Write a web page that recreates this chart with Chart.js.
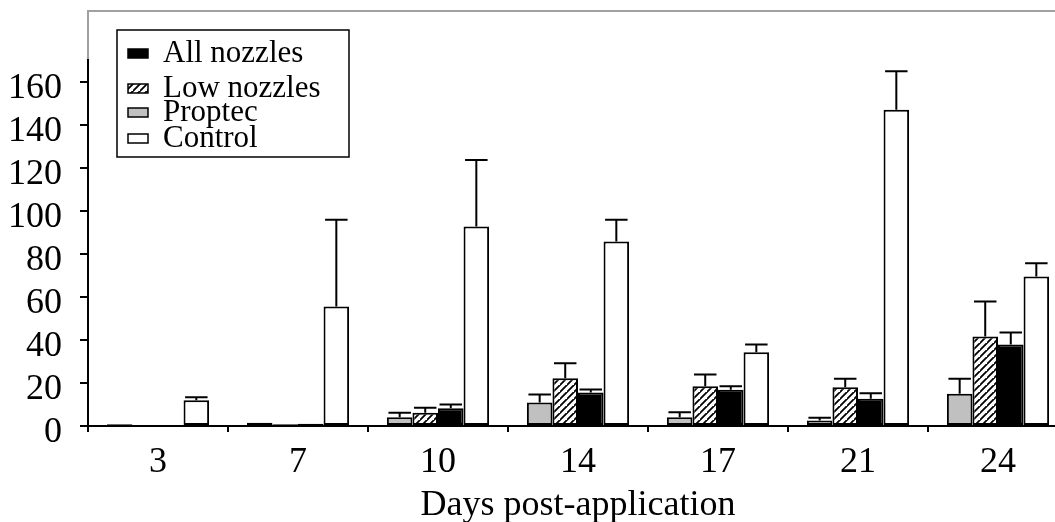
<!DOCTYPE html>
<html>
<head>
<meta charset="utf-8">
<script src="https://cdn.jsdelivr.net/npm/chart.js@4.4.1/dist/chart.umd.min.js"></script>
<style>
  html, body { margin: 0; padding: 0; background: #fff; overflow: hidden; }
  #wrap { width: 1080px; height: 522px; position: relative; }
</style>
</head>
<body>
<div id="wrap"><canvas id="c"></canvas></div>
<script>
// ---- data ----
const days = ['3', '7', '10', '14', '17', '21', '24'];
const proptec    = [0.8, 1.5, 4.1, 10.9, 4.1, 2.6, 15.0];
const proptecErr = [0, 0, 2.0, 3.7, 2.3, 1.2, 6.9];
const lowNozzles    = [0, 0.8, 6.1, 22.2, 18.5, 18.0, 41.6];
const lowNozzlesErr = [0, 0, 2.4, 7.0, 5.4, 3.9, 16.2];
const allNozzles    = [0, 1.0, 8.3, 15.6, 16.8, 12.6, 37.9];
const allNozzlesErr = [0, 0, 1.7, 1.4, 1.7, 2.6, 5.5];
const control    = [12.0, 55.5, 92.7, 85.7, 34.3, 146.9, 69.4];
const controlErr = [1.4, 40.3, 30.9, 10.1, 3.6, 17.9, 6.2];
const yTicks = [0, 20, 40, 60, 80, 100, 120, 140, 160];
const legendOrder = ['All nozzles', 'Low nozzles', 'Proptec', 'Control'];
const xTitle = 'Days post-application';

const FONT = '"Liberation Serif", "Times New Roman", serif';

// hatch pattern
function makeHatch() {
  const s = 7;
  const p = document.createElement('canvas');
  p.width = s; p.height = s;
  const g = p.getContext('2d');
  g.fillStyle = '#fff'; g.fillRect(0, 0, s, s);
  g.strokeStyle = '#000'; g.lineWidth = 1.8;
  g.beginPath();
  g.moveTo(-1, s + 1); g.lineTo(s + 1, -1);
  g.moveTo(-1 - s, s + 1); g.lineTo(1, -1);
  g.moveTo(s - 1, 2 * s + 1); g.lineTo(2 * s + 1, s - 1);
  g.stroke();
  return g.createPattern(p, 'repeat');
}
const ctx = document.getElementById('c').getContext('2d');
const hatch = makeHatch();

const errs = [proptecErr, lowNozzlesErr, allNozzlesErr, controlErr];

const errorBars = {
  id: 'errorBars',
  afterDatasetsDraw(chart) {
    const c = chart.ctx, ys = chart.scales.y;
    c.save();
    c.strokeStyle = '#000'; c.lineWidth = 2;
    chart.data.datasets.forEach((ds, di) => {
      const meta = chart.getDatasetMeta(di);
      meta.data.forEach((bar, i) => {
        const e = errs[di][i];
        if (!e) return;
        const yTop = ys.getPixelForValue(ds.data[i] + e);
        const x = bar.x;
        const half = bar.width * 0.44;
        c.beginPath();
        c.moveTo(x, bar.y); c.lineTo(x, yTop);
        c.moveTo(x - half, yTop); c.lineTo(x + half, yTop);
        c.stroke();
      });
    });
    c.restore();
  }
};

const frame = {
  id: 'frame',
  beforeDraw(chart) {
    const c = chart.ctx, a = chart.chartArea;
    c.save();
    c.strokeStyle = '#a0a0a0'; c.lineWidth = 2;
    c.beginPath();
    c.moveTo(a.left, a.top); c.lineTo(a.left, 11); c.lineTo(chart.width, 11);
    c.stroke();
    c.restore();
  }
};

const boxLegend = {
  id: 'boxLegend',
  afterDraw(chart) {
    const c = chart.ctx;
    c.save();
    c.strokeStyle = '#000'; c.lineWidth = 1.5;
    c.strokeRect(117, 30, 232, 127);
    const rows = [53, 88, 112, 138];
    c.font = '31px ' + FONT;
    c.textBaseline = 'middle';
    c.textAlign = 'left';
    legendOrder.forEach((name, k) => {
      const ds = chart.data.datasets.find(d => d.label === name);
      const y = rows[k];
      c.fillStyle = ds.backgroundColor;
      c.fillRect(128, y - 4, 20, 9);
      c.lineWidth = 1.5; c.strokeStyle = '#000';
      c.strokeRect(128, y - 4, 20, 9);
      c.fillStyle = '#000';
      c.fillText(name, 163, y + 1);
    });
    c.restore();
  }
};

new Chart(ctx, {
  type: 'bar',
  data: {
    labels: days,
    datasets: [
      { label: 'Proptec', data: proptec, backgroundColor: '#c0c0c0' },
      { label: 'Low nozzles', data: lowNozzles, backgroundColor: hatch },
      { label: 'All nozzles', data: allNozzles, backgroundColor: '#000' },
      { label: 'Control', data: control, backgroundColor: '#fff' }
    ].map(d => Object.assign(d, {
      borderColor: '#000', borderWidth: 2, borderSkipped: false,
      categoryPercentage: 0.73, barPercentage: 1.0
    }))
  },
  options: {
    responsive: true,
    maintainAspectRatio: false,
    animation: false,
    layout: { padding: { top: 60, right: 12, left: 0, bottom: 0 } },
    plugins: { legend: { display: false }, tooltip: { enabled: false } },
    scales: {
      x: {
        offset: true,
        grid: { offset: true, drawOnChartArea: false, drawTicks: true, tickLength: 6, color: '#000', lineWidth: 2 },
        border: { color: '#000', width: 2 },
        ticks: { color: '#000', font: { family: FONT, size: 36 }, padding: 9, maxRotation: 0, autoSkip: false },
        title: { display: true, text: xTitle, color: '#000', font: { family: FONT, size: 36, lineHeight: 0.92 }, padding: 0 },
        afterFit(s) { s.height = 96; }
      },
      y: {
        min: 0, max: 170,
        grid: { drawOnChartArea: false, drawTicks: true, tickLength: 8, color: '#000', lineWidth: 2 },
        border: { color: '#000', width: 2 },
        ticks: { color: '#000', font: { family: FONT, size: 36 }, padding: 18, labelOffset: 7, autoSkip: false },
        afterBuildTicks(s) { s.ticks = yTicks.map(v => ({ value: v })); },
        afterFit(s) { s.width = 88; }
      }
    }
  },
  plugins: [frame, errorBars, boxLegend]
});
</script>
</body>
</html>
